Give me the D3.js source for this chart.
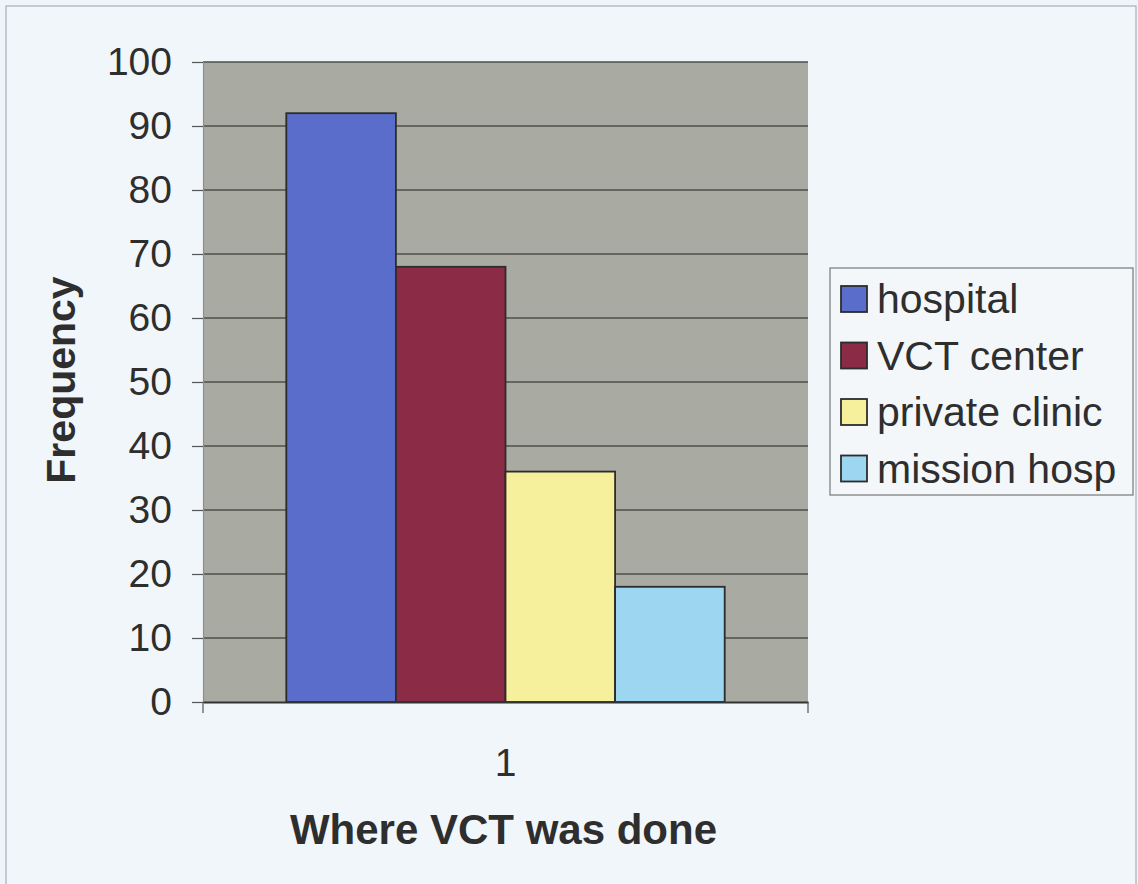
<!DOCTYPE html>
<html>
<head>
<meta charset="utf-8">
<script src="https://cdn.jsdelivr.net/npm/d3@7"></script>
<style>
html,body{margin:0;padding:0;background:#eef4f8;}
svg{display:block;font-family:"Liberation Sans",Arial,sans-serif;}
</style>
</head>
<body>
<svg id="chart" width="1138" height="884"></svg>
<script>
const categories = ["1"];
const seriesNames = ["hospital", "VCT center", "private clinic", "mission hosp"];
const seriesValues = [92, 68, 36, 18];
const seriesColors = ["#5b6dcb", "#8c2b45", "#f6f09c", "#9cd6f1"];
const yTicks = [0, 10, 20, 30, 40, 50, 60, 70, 80, 90, 100];

const svg = d3.select("#chart");
const plot = {left: 203, right: 808, top: 62, bottom: 702};

// outer frame
svg.append("rect").attr("x", 6).attr("y", 6).attr("width", 1130).attr("height", 900)
  .attr("fill", "#f1f6fa").attr("stroke", "#9aa2a8").attr("stroke-width", 1);

const x = d3.scaleBand().domain(categories).range([plot.left, plot.right])
  .paddingInner(0).paddingOuter(0.19);
const xs = d3.scaleBand().domain(seriesNames).range([0, x.bandwidth()]).padding(0);
const y = d3.scaleLinear().domain([0, 100]).range([plot.bottom, plot.top]);

// plot background
svg.append("rect").attr("x", plot.left).attr("y", plot.top)
  .attr("width", plot.right - plot.left).attr("height", plot.bottom - plot.top)
  .attr("fill", "#a9aaa2");

// gridlines
svg.append("g").selectAll("line").data(yTicks.filter(d => d > 0)).join("line")
  .attr("x1", plot.left).attr("x2", plot.right)
  .attr("y1", d => y(d)).attr("y2", d => y(d))
  .attr("stroke", "#4e4f4c").attr("stroke-width", 1.5);

// y axis
const yAxis = svg.append("g").attr("transform", `translate(${plot.left},0)`)
  .call(d3.axisLeft(y).tickValues(yTicks).tickSize(11).tickPadding(20));
yAxis.select(".domain").attr("stroke", "#8a8f96").attr("stroke-width", 1.2);
yAxis.selectAll(".tick line").attr("stroke", "#555").attr("stroke-width", 1.2);
yAxis.selectAll(".tick text").attr("font-size", 39).attr("fill", "#2e2e2e")
  .attr("font-family", "Liberation Sans, Arial, sans-serif");

// bars
svg.append("g").selectAll("rect").data(seriesNames.map((n, i) => ({n, v: seriesValues[i], c: seriesColors[i]})))
  .join("rect")
  .attr("x", d => x(categories[0]) + xs(d.n))
  .attr("y", d => y(d.v))
  .attr("width", xs.bandwidth())
  .attr("height", d => y(0) - y(d.v))
  .attr("fill", d => d.c)
  .attr("stroke", "#2c2c2c").attr("stroke-width", 1.8);

// x axis
const xAxis = svg.append("g").attr("transform", `translate(0,${plot.bottom})`)
  .call(d3.axisBottom(x).tickSize(0).tickPadding(46));
xAxis.select(".domain").attr("stroke", "#333").attr("stroke-width", 2);
xAxis.selectAll(".tick text").attr("font-size", 39).attr("fill", "#2e2e2e")
  .attr("font-family", "Liberation Sans, Arial, sans-serif");
// x edge ticks
svg.append("g").selectAll("line").data(x.range()).join("line")
  .attr("x1", d => d).attr("x2", d => d)
  .attr("y1", plot.bottom).attr("y2", plot.bottom + 11)
  .attr("stroke", "#555").attr("stroke-width", 1.2);

// axis titles
svg.append("text").attr("x", (plot.left + plot.right) / 2 - 2).attr("y", 844)
  .attr("text-anchor", "middle").attr("font-size", 42).attr("font-weight", "bold")
  .attr("fill", "#2e2e2e").text("Where VCT was done");
svg.append("text").attr("transform", "translate(75,380) rotate(-90)")
  .attr("text-anchor", "middle").attr("font-size", 41).attr("font-weight", "bold")
  .attr("fill", "#2e2e2e").text("Frequency");

// legend
const lg = svg.append("g");
lg.append("rect").attr("x", 830).attr("y", 268).attr("width", 303).attr("height", 227)
  .attr("fill", "#f3f7fa").attr("stroke", "#777").attr("stroke-width", 1.2);
const rows = lg.selectAll("g.item").data(seriesNames).join("g").attr("class", "item")
  .attr("transform", (d, i) => `translate(841,${299 + i * 56.5})`);
rows.append("rect").attr("x", 0).attr("y", -13).attr("width", 26).attr("height", 26)
  .attr("fill", (d, i) => seriesColors[i]).attr("stroke", "#2c2c2c").attr("stroke-width", 1.8);
rows.append("text").attr("x", 36).attr("y", 14).attr("font-size", 41).attr("fill", "#2e2e2e")
  .text(d => d);
</script>
</body>
</html>
